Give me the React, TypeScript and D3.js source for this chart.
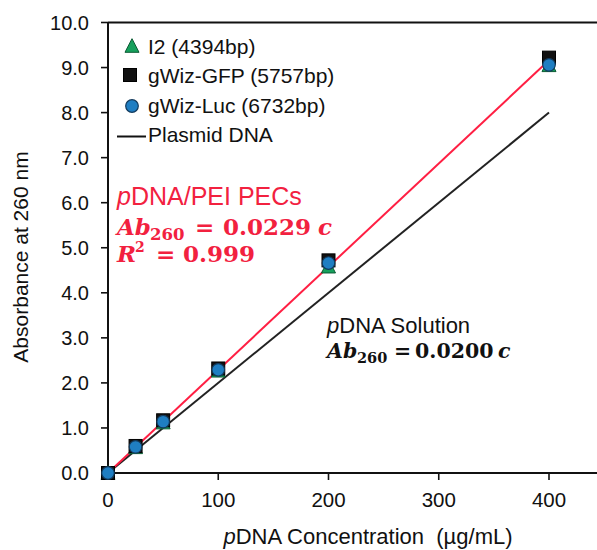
import React from "react";
import * as d3 from "d3";

const concentrations = [0, 25, 50, 100, 200, 400];
const i2Values = [0, 0.57, 1.12, 2.27, 4.58, 9.05];
const gfpValues = [0, 0.6, 1.17, 2.32, 4.72, 9.22];
const lucValues = [0, 0.58, 1.14, 2.29, 4.66, 9.06];
const fitX = [0, 400];
const pecSlope = 0.0229;
const solutionSlope = 0.02;
const xTicks = [0, 100, 200, 300, 400];
const yTicks = [0, 1, 2, 3, 4, 5, 6, 7, 8, 9, 10];
const legendLabels = ["I2 (4394bp)", "gWiz-GFP (5757bp)", "gWiz-Luc (6732bp)", "Plasmid DNA"];

const W = 597;
const H = 550;
const x = d3.scaleLinear().domain([0, 400]).range([108, 549]);
const y = d3.scaleLinear().domain([0, 10]).range([473, 22.5]);
const fmtY = d3.format(".1f");

const GREEN = "#16a05c";
const BLUE = "#1f7ec2";
const RED = "#ff1f43";
const RED_TEXT = "#f2213f";
const SANS = "Liberation Sans, Arial, sans-serif";
const MATH = "DejaVu Serif, serif";

const tri = (cx: number, cy: number, s: number) => {
  const h = s * 0.9;
  return `M${cx},${cy - h / 2 - 1}L${cx + s / 2},${cy + h / 2}L${cx - s / 2},${cy + h / 2}Z`;
};

const Triangle = ({ cx, cy }: { cx: number; cy: number }) => (
  <path d={tri(cx, cy, 14)} fill={GREEN} stroke="#0b5a33" strokeWidth={1} />
);
const Square = ({ cx, cy }: { cx: number; cy: number }) => (
  <rect x={cx - 6.5} y={cy - 6.5} width={13} height={13} fill="#111" stroke="#000" strokeWidth={1} />
);
const Circle = ({ cx, cy }: { cx: number; cy: number }) => (
  <circle cx={cx} cy={cy} r={6.3} fill={BLUE} stroke="#123a5c" strokeWidth={1.2} />
);

export default function App() {
  const line = d3
    .line<number>()
    .x((d) => x(d[0]))
    .y((d) => y(d[1]));
  const pecLine = line(fitX.map((v) => [v, v * pecSlope]) as any);
  const solLine = line(fitX.map((v) => [v, v * solutionSlope]) as any);

  return (
    <svg width={W} height={H} style={{ position: "absolute", left: 0, top: 0, background: "#fff" }}>
      {/* axes */}
      <line x1={x(0)} x2={W} y1={y(10)} y2={y(10)} stroke="#111" strokeWidth={2} />
      <line x1={x(0)} x2={W} y1={y(0)} y2={y(0)} stroke="#111" strokeWidth={2} />
      <line x1={x(0)} x2={x(0)} y1={y(10)} y2={y(0)} stroke="#111" strokeWidth={2} />
      {yTicks.map((t) => (
        <g key={"y" + t}>
          <line x1={x(0) - 7} x2={x(0)} y1={y(t)} y2={y(t)} stroke="#111" strokeWidth={1.6} />
          <text x={89} y={y(t) + 7} textAnchor="end" fontFamily={SANS} fontSize={20} fill="#111">
            {fmtY(t)}
          </text>
        </g>
      ))}
      {xTicks.map((t) => (
        <g key={"x" + t}>
          <line x1={x(t)} x2={x(t)} y1={y(0)} y2={y(0) + 7} stroke="#111" strokeWidth={1.6} />
          <text x={x(t)} y={507} textAnchor="middle" fontFamily={SANS} fontSize={20.5} fill="#111">
            {t}
          </text>
        </g>
      ))}
      <text
        transform={`translate(28,257) rotate(-90)`}
        textAnchor="middle"
        fontFamily={SANS}
        fontSize={21}
        fill="#111"
      >
        Absorbance at 260 nm
      </text>
      <text x={368} y={544} textAnchor="middle" fontFamily={SANS} fontSize={22} fill="#111">
        <tspan fontStyle="italic">p</tspan>DNA Concentration{"\u00a0\u00a0"}(µg/mL)
      </text>

      {/* fit lines */}
      <path d={solLine || ""} stroke="#222" strokeWidth={2} fill="none" />
      <path d={pecLine || ""} stroke={RED} strokeWidth={2} fill="none" />

      {/* data */}
      {concentrations.map((c, i) => (
        <Triangle key={"t" + i} cx={x(c)} cy={y(i2Values[i])} />
      ))}
      {concentrations.map((c, i) => (
        <Square key={"s" + i} cx={x(c)} cy={y(gfpValues[i])} />
      ))}
      {concentrations.map((c, i) => (
        <Circle key={"c" + i} cx={x(c)} cy={y(lucValues[i])} />
      ))}

      {/* legend */}
      <Triangle cx={132} cy={46} />
      <Square cx={130} cy={75} />
      <Circle cx={132} cy={106} />
      <line x1={117} x2={146} y1={136.5} y2={136.5} stroke="#111" strokeWidth={2} />
      {legendLabels.map((l, i) => (
        <text key={l} x={148} y={54 + i * 29.3} fontFamily={SANS} fontSize={21} fill="#111">
          {l}
        </text>
      ))}

      {/* red annotation */}
      <text x={117} y={205} fontFamily={SANS} fontSize={25} fill={RED_TEXT}>
        <tspan fontStyle="italic">p</tspan>DNA/PEI PECs
      </text>
      <g fill={RED_TEXT} fontFamily={MATH} fontWeight="bold" fontSize={23}>
        <text x={117} y={235} fontStyle="italic">Ab</text>
        <text x={150} y={240} fontSize={16.5}>260</text>
        <text x={195} y={235}>=</text>
        <text x={223} y={235}>0.0229</text>
        <text x={318} y={235} fontStyle="italic">c</text>
        <text x={117} y={262} fontStyle="italic">R</text>
        <text x={135} y={252} fontSize={14}>2</text>
        <text x={156} y={262}>=</text>
        <text x={183} y={262}>0.999</text>
      </g>

      {/* black annotation */}
      <text x={327} y={333} fontFamily={SANS} fontSize={22} fill="#111">
        <tspan fontStyle="italic">p</tspan>DNA Solution
      </text>
      <g fill="#111" fontFamily={MATH} fontWeight="bold" fontSize={20.5}>
        <text x={327} y={358} fontStyle="italic">Ab</text>
        <text x={357} y={363} fontSize={14.5}>260</text>
        <text x={394} y={358}>=</text>
        <text x={415} y={358}>0.0200</text>
        <text x={498} y={358} fontStyle="italic">c</text>
      </g>
    </svg>
  );
}
